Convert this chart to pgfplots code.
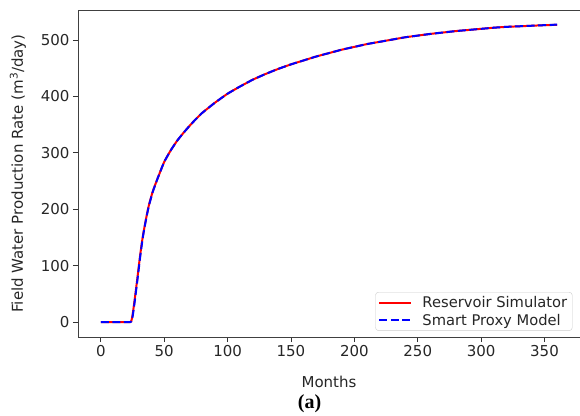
\documentclass[border=0pt]{standalone}
\usepackage{fontspec}
\setmainfont{DejaVu Sans}
\newfontfamily\capfont{Liberation Serif}
\usepackage{pgfplots}
\pgfplotsset{compat=1.18}

% Field water production rate (m^3/day) versus time (months)
\pgfplotstableread{
x y
0 0
5 0
10 0
15 0
20 0
23 0
24 1.5
25 12
26 28
27 45
28 63
29 81
30 100
31 118
32 135
33 150
34 163
36 187
38 208
41 232
45 256
50 284
55 304
60 321
65 335
70 348
75 360
80 371
90 389
100 405
110 418
120 430
130 440
140 449
150 457
160 464
170 471
180 477
190 483
200 488
210 493
220 497
230 501
240 505
250 508
260 511
270 513.5
280 516
290 518
300 520
310 522
320 523.5
330 524.5
340 525.5
350 526.5
360 527
}\simdata

\pgfplotstableread{
x y
0 0
5 0
10 0
15 0
20 0
23 0
24 1
25 9
26 24
27 41
28 59
29 77
30 96
31 115
32 132
33 148
34 162
36 186
38 207
41 231
45 256
50 284
55 304
60 321
65 335
70 348
75 360
80 371
90 389
100 405
110 418
120 430
130 440
140 449
150 457
160 464
170 471
180 477
190 483
200 488
210 493
220 497
230 501
240 505
250 508
260 511
270 513.5
280 516
290 518
300 520
310 522
320 523.5
330 524.5
340 525.5
350 526.5
360 527.5
}\proxydata

\begin{document}
\begin{tikzpicture}
\begin{axis}[
  scale only axis,
  width=502pt, height=327pt,
  xmin=-18, xmax=378, ymin=-26.35, ymax=553.4,
  xtick={0,50,...,350}, ytick={0,100,...,500},
  tick align=outside, xtick pos=bottom, ytick pos=left,
  major tick length=5pt,
  tick style={black!80, line width=0.9pt},
  axis line style={black!75, line width=0.9pt},
  /pgf/number format/assume math mode=true,
  tick label style={font=\fontsize{15}{18}\selectfont, text=black!85},
  label style={font=\fontsize{15}{18}\selectfont, text=black!85},
  xlabel={Months},
  ylabel={Field Water Production Rate (m\textsuperscript{3}/day)},
  xlabel style={at={(axis description cs:0.5,-0.1376)}, anchor=center},
  ylabel style={at={(axis description cs:-0.1195,0.5)}, anchor=center},
  legend image code/.code={\draw[#1] (0pt,0pt) -- (32pt,0pt);},
  legend cell align=left,
  legend style={at={(axis description cs:0.985,0.019)}, anchor=south east,
    draw=black!20, rounded corners=3pt, fill=white,
    font=\fontsize{14.7}{17}\selectfont, text=black!85,
    inner xsep=3pt, inner ysep=2pt,
    row sep=1pt,
    /tikz/every odd column/.style={column sep=8pt}},
]
\addplot[red, line width=2pt, no marks, smooth, tension=0.3] table[x=x, y=y] {\simdata};
\addlegendentry{Reservoir Simulator}
\addplot[blue, line width=2pt, no marks, smooth, tension=0.3, dash pattern=on 8pt off 3.5pt] table[x=x, y=y] {\proxydata};
\addlegendentry{Smart Proxy Model}
\end{axis}
\node[font=\capfont\bfseries\fontsize{20}{24}\selectfont, anchor=center]
  at ([xshift=-19.5pt, yshift=-67pt]current axis.south) {(a)};
\pgfresetboundingbox
\path[use as bounding box] ([xshift=-78pt,yshift=-78pt]current axis.south west)
  rectangle ([yshift=10pt]current axis.north east);
\end{tikzpicture}
\end{document}
